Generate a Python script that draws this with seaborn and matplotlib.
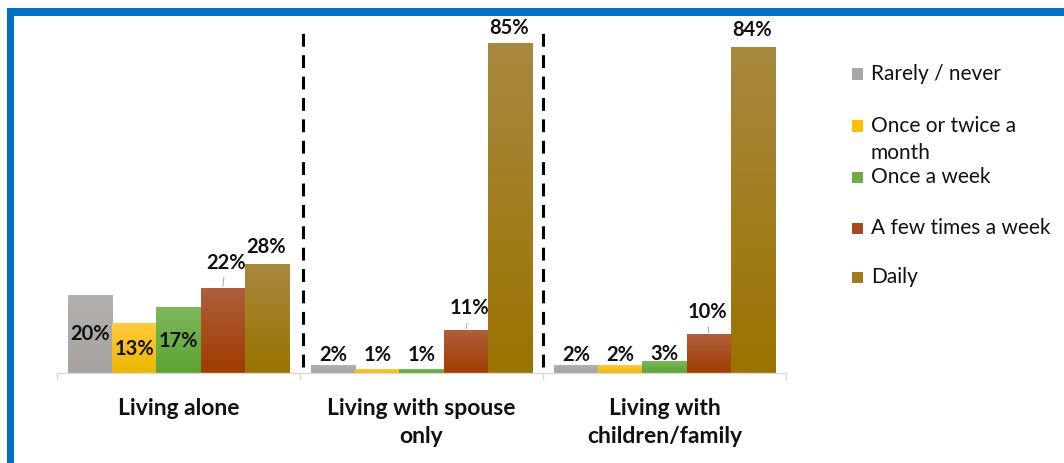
import numpy as np
import pandas as pd
import matplotlib
matplotlib.use("Agg")
import matplotlib.pyplot as plt
from matplotlib.colors import to_rgb
from matplotlib.patches import Rectangle
import seaborn as sns

# ---- data ----
living = ["Living alone", "Living with spouse\nonly", "Living with\nchildren/family"]
frequency = ["Rarely / never", "Once or twice a\nmonth", "Once a week",
             "A few times a week", "Daily"]
rarely = [20, 2, 2]
monthly = [13, 1, 2]
weekly = [17, 1, 3]
few_times = [22, 11, 10]
daily = [28, 85, 84]

series = [rarely, monthly, weekly, few_times, daily]

# ---- styling ----
base_colors = ["#A9A6A4", "#FFC000", "#6DAE47", "#A44A1E", "#A07C22"]
grad_top = ["#B4B0AE", "#FFCB3C", "#7EB85C", "#AF5F3D", "#A8883F"]
grad_bottom = ["#A6A2A0", "#EDB700", "#5BA333", "#A03C00", "#9B7300"]

# label offsets (pixels) from the top-centre of each bar, per series / group
label_dx = [[0, 0, 0], [0, 0, 0], [0, 0, 0], [3, 4, -1], [-1, -1, -1]]
label_dy = [[-39, 10, 10], [-26, 14, 10], [-34, 14, 7], [25, 22, 22], [17, 15, 17]]
leader = [[False] * 3, [False] * 3, [False] * 3, [True, True, True], [False] * 3]

label_font = ["Lato", "DejaVu Sans"]

rows = []
for f, vals in zip(frequency, series):
    for g, v in zip(living, vals):
        rows.append({"living": g, "frequency": f, "pct": v})
df = pd.DataFrame(rows)

sns.set_theme(style="white")
plt.rcParams["font.family"] = label_font

fig = plt.figure(figsize=(10.64, 4.63), dpi=100)
fig.patch.set_facecolor("white")

H = 463.0
W = 1064.0
ax_left, ax_right = 57 / W, 786 / W
ax_bottom = (H - 373) / H
ax_top = 24 / H
ax = fig.add_axes([ax_left, ax_bottom, ax_right - ax_left, 1 - ax_top - ax_bottom])

sns.barplot(data=df, x="living", y="pct", hue="frequency",
            order=living, hue_order=frequency,
            palette=dict(zip(frequency, base_colors)),
            width=0.91, gap=0, legend=False, ax=ax, saturation=1,
            linewidth=0, errorbar=None)

# vertical gradients clipped to each bar
for ci, cont in enumerate(ax.containers):
    top_c = np.array(to_rgb(grad_top[ci]))
    bot_c = np.array(to_rgb(grad_bottom[ci]))
    for bar in cont:
        x0 = bar.get_x()
        w = bar.get_width()
        h = bar.get_height()
        t = np.linspace(0, 1, 64)[:, None]
        img = (top_c[None, :] * (1 - t) + bot_c[None, :] * t)[:, None, :]
        im = ax.imshow(img, extent=[x0, x0 + w, 0, h], aspect="auto",
                       origin="upper", zorder=bar.get_zorder() + 0.1,
                       interpolation="bilinear")
        im.set_clip_path(bar)

ax.set_ylim(0, 90)
ax.set_xlim(-0.5, 2.5)

# data labels
for ci, cont in enumerate(ax.containers):
    for gi, bar in enumerate(cont):
        v = series[ci][gi]
        cx = bar.get_x() + bar.get_width() / 2
        top = bar.get_height()
        kw = {}
        if leader[ci][gi]:
            kw["arrowprops"] = dict(arrowstyle="-", color="#9A9A9A", lw=0.6,
                                    shrinkA=1, shrinkB=1)
        ax.annotate(f"{v}%", xy=(cx, top),
                    xytext=(label_dx[ci][gi], label_dy[ci][gi]),
                    textcoords="offset pixels", ha="center", va="center",
                    fontsize=14.5, fontweight="bold", color="#111111",
                    zorder=5, **kw)

# dashed separators between groups
for xsep in [0.512, 1.5]:
    ax.plot([xsep, xsep], [1.5, 88.2], color="black", lw=2.2,
            linestyle=(0, (4.2, 2.8)), zorder=4, clip_on=False)

# axes styling
for s in ["left", "right", "top"]:
    ax.spines[s].set_visible(False)
ax.spines["bottom"].set_color("#D9D9D9")
ax.spines["bottom"].set_linewidth(1.0)
ax.set_yticks([])
ax.set_xlabel("")
ax.set_ylabel("")
ax.set_xticks(range(len(living)))
ax.set_xticklabels(living, fontsize=16.5, fontweight="bold", color="#111111",
                   linespacing=1.4)
ax.tick_params(axis="x", which="major", length=0, pad=18)
ax.set_xticks([-0.5, 0.5, 1.5, 2.5], minor=True)
ax.tick_params(axis="x", which="minor", length=5, width=1.0, color="#D9D9D9",
               direction="out", bottom=True)
ax.grid(False)
ax.set_facecolor("white")

# legend drawn as squares and text at the right
leg_text_x = 871 / W
leg_y = [74, 126, 177, 228, 277]
sq = 11
for c, lab, yy in zip(base_colors, frequency, leg_y):
    fig.patches.append(Rectangle((852 / W, (H - yy - sq / 2) / H), sq / W, sq / H,
                                 transform=fig.transFigure, facecolor=c,
                                 edgecolor="none"))
    lines = lab.split("\n")
    for k, line in enumerate(lines):
        fig.text(leg_text_x, (H - yy - 27 * k) / H, line, ha="left", va="center",
                 fontsize=15, color="#111111")

# blue frame along the left and top edges
blue = "#0070C0"
fig.patches.append(Rectangle((7 / W, 0), 6.5 / W, (H - 8) / H,
                             transform=fig.transFigure, facecolor=blue,
                             edgecolor="none"))
fig.patches.append(Rectangle((7 / W, (H - 15.5) / H), (W - 7) / W, 7.5 / H,
                             transform=fig.transFigure, facecolor=blue,
                             edgecolor="none"))

fig.savefig("out.png", dpi=100, facecolor="white")
